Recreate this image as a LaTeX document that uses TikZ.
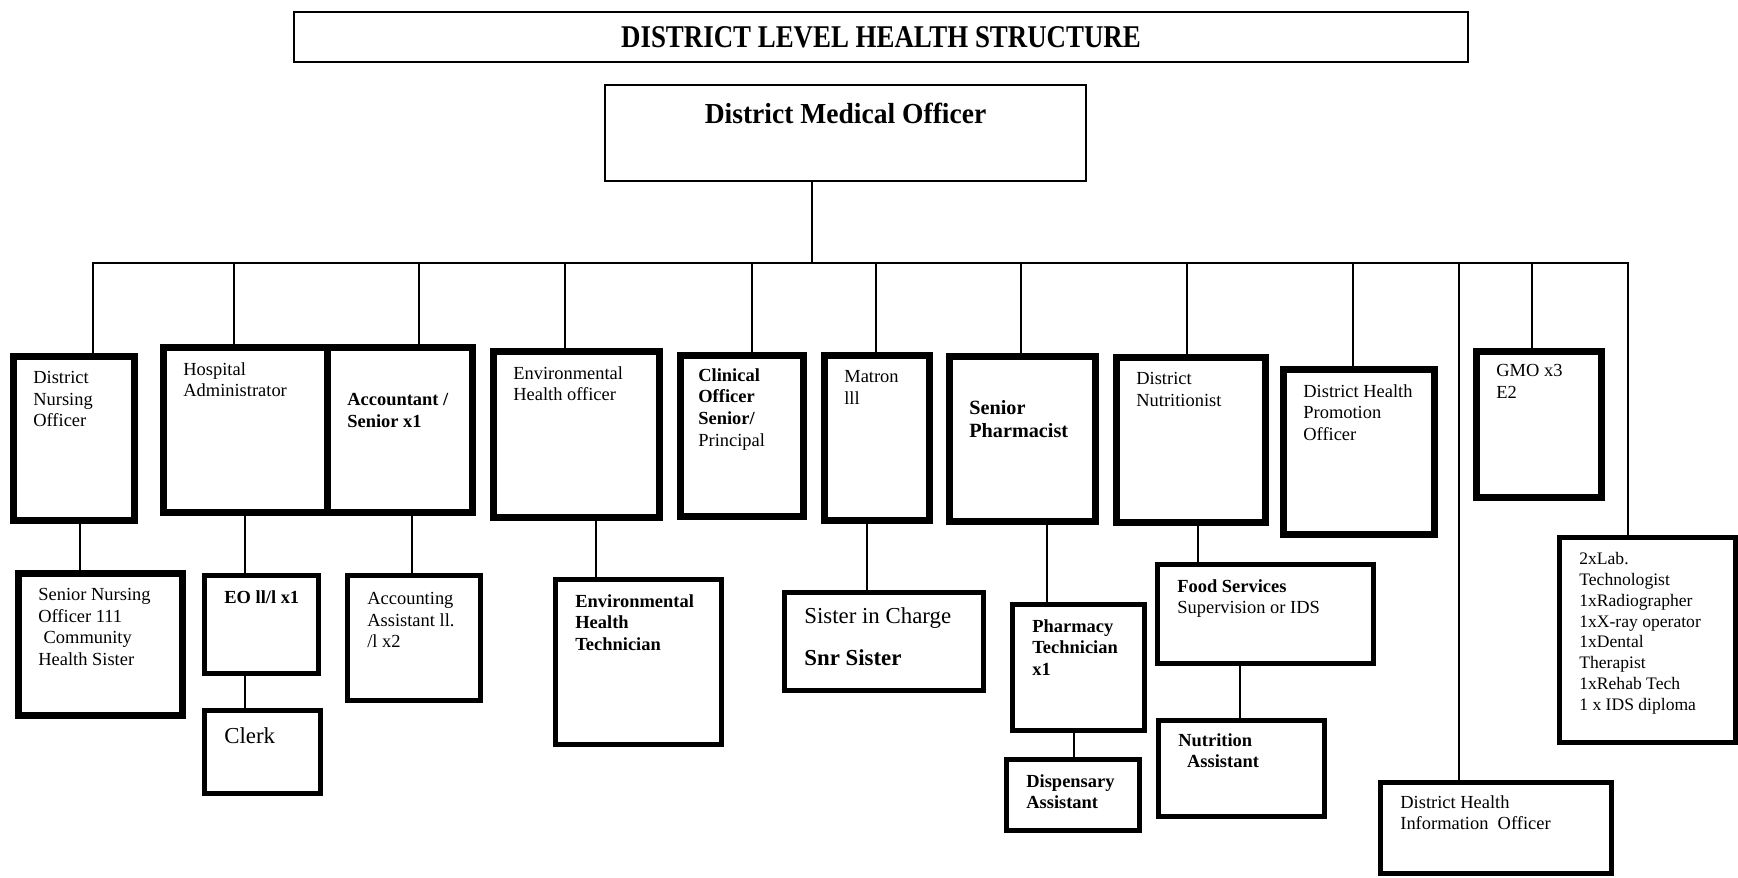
\documentclass[tikz,border=0pt]{standalone}
\usepackage{fontspec}
\setmainfont{Liberation Serif}
\usetikzlibrary{calc}

\begin{document}
\begin{tikzpicture}[
heavy/.style={draw, line width=.14cm, inner sep=0, outer sep=0},
medium/.style={draw, line width=.10cm, inner sep=0, outer sep=0},
plain/.style={draw, line width=.04cm, inner sep=0, outer sep=0},
link/.style={line width=.035cm},
post/.style={anchor=north west, inner sep=0, align=left, xshift=.4cm, yshift=-.3cm, font=\fontsize{10.5}{12.3}\selectfont},
postb/.style={post, font=\fontsize{10.5}{12.3}\selectfont\bfseries},
big/.style={post, font=\fontsize{13}{15}\selectfont}]
\useasboundingbox (0,0) rectangle (34.76,-17.54);
%%%%%%%%%% heading %%%%%%%%%%%
\node[plain, minimum width=23.48cm, minimum height=1cm] (title) at (17.62,-.74) {};
\node[font=\fontsize{18}{20}\selectfont\bfseries] at (title) {\scalebox{.85}[1]{DISTRICT LEVEL HEALTH STRUCTURE}};
\node[plain, minimum width=9.62cm, minimum height=1.92cm] (dmo) at (16.91,-2.66) {};
\node[anchor=north, inner sep=0, font=\fontsize{16.5}{18}\selectfont\bfseries] at ([yshift=-.36cm]dmo.north) {\scalebox{.95}[1]{District Medical Officer}};
\coordinate (BL) at (1.86,-5.26);
\coordinate (BR) at (32.56,-5.26);
%%%%%%%%%% first row %%%%%%%%%%%
\node[heavy, minimum width=2.42cm, minimum height=3.28cm] (dno) at (1.47,-8.76) {};
\node[post] at (dno.north west) {District\\Nursing\\Officer};
\node[heavy, minimum width=3.28cm, minimum height=3.30cm] (ha) at (4.90,-8.59) {};
\node[post] at (ha.north west) {Hospital\\Administrator};
\node[heavy, minimum width=2.90cm, minimum height=3.30cm] (acc) at (7.99,-8.59) {};
\node[postb] at ([yshift=-.62cm]acc.north west) {Accountant /\\Senior x1};
\node[heavy, minimum width=3.32cm, minimum height=3.32cm] (eho) at (11.52,-8.68) {};
\node[post] at (eho.north west) {Environmental\\Health officer};
\node[heavy, minimum width=2.46cm, minimum height=3.22cm] (co) at (14.83,-8.71) {};
\node[post] at ([xshift=-.04cm, yshift=.04cm]co.north west) {\textbf{Clinical}\\\textbf{Officer}\\\textbf{Senior/}\\Principal};
\node[heavy, minimum width=2.10cm, minimum height=3.30cm] (matron) at (17.53,-8.75) {};
\node[post] at (matron.north west) {Matron\\lll};
\node[heavy, minimum width=2.92cm, minimum height=3.30cm] (pharm) at (20.44,-8.77) {};
\node[post, font=\fontsize{11.5}{13.2}\selectfont\bfseries] at ([yshift=-.58cm]pharm.north west) {Senior\\Pharmacist};
\node[heavy, minimum width=2.98cm, minimum height=3.30cm] (nutri) at (23.81,-8.79) {};
\node[post] at (nutri.north west) {District\\Nutritionist};
\node[heavy, minimum width=3.02cm, minimum height=3.30cm] (promo) at (27.17,-9.03) {};
\node[post] at (promo.north west) {District Health\\Promotion\\Officer};
\node[heavy, minimum width=2.50cm, minimum height=2.92cm] (gmo) at (30.77,-8.48) {};
\node[post] at ([yshift=.04cm]gmo.north west) {GMO x3\\E2};
\node[medium, minimum width=3.52cm, minimum height=4.10cm] (lab) at (32.94,-12.79) {};
\node[post, font=\fontsize{10}{11.85}\selectfont] at (lab.north west) {2xLab.\\Technologist\\1xRadiographer\\1xX-ray operator\\1xDental\\Therapist\\1xRehab Tech\\1 x IDS diploma};
\node[medium, minimum width=4.62cm, minimum height=1.82cm] (info) at (29.91,-16.55) {};
\node[post] at ([yshift=.04cm]info.north west) {District Health\\Information\ \ Officer};
%%%%%%%%%% second row %%%%%%%%%%%
\node[heavy, minimum width=3.28cm, minimum height=2.84cm] (sno) at (2.00,-12.88) {};
\node[post] at (sno.north west) {Senior Nursing\\Officer 111\\\hspace*{3pt}Community\\Health Sister};
\node[medium, minimum width=2.28cm, minimum height=1.96cm] (eo) at (5.22,-12.48) {};
\node[postb] at (eo.north west) {EO ll/l x1};
\node[medium, minimum width=2.32cm, minimum height=1.66cm] (clerk) at (5.24,-15.03) {};
\node[big] at ([yshift=-.04cm]clerk.north west) {Clerk};
\node[medium, minimum width=2.66cm, minimum height=2.50cm] (accas) at (8.27,-12.75) {};
\node[post] at ([yshift=-.04cm]accas.north west) {Accounting\\Assistant ll.\\/l x2};
\node[medium, minimum width=3.32cm, minimum height=3.30cm] (eht) at (12.76,-13.23) {};
\node[postb] at (eht.north west) {Environmental\\Health\\Technician};
\node[medium, minimum width=3.98cm, minimum height=1.96cm] (sister) at (17.67,-12.82) {};
\node[big] at (sister.north west) {Sister in Charge\\[9pt]\textbf{Snr Sister}};
\node[medium, minimum width=2.64cm, minimum height=2.52cm] (tech) at (21.56,-13.34) {};
\node[postb] at (tech.north west) {Pharmacy\\Technician\\x1};
\node[medium, minimum width=2.66cm, minimum height=1.42cm] (disp) at (21.45,-15.89) {};
\node[postb] at (disp.north west) {Dispensary\\Assistant};
\node[medium, minimum width=4.32cm, minimum height=1.98cm] (food) at (25.30,-12.27) {};
\node[post] at (food.north west) {\textbf{Food Services}\\Supervision or IDS};
\node[medium, minimum width=3.32cm, minimum height=1.92cm] (nutas) at (24.82,-15.36) {};
\node[postb] at ([yshift=.04cm]nutas.north west) {Nutrition\\\hspace*{5pt}Assistant};
%%%%%%%%%% lines %%%%%%%%%%%
\draw[link] (dmo.south -| 16.24,0) -- (16.24,-5.26);
\draw[link] (dno.north -| BL) -- (BL) -- (BR) -- (lab.north -| BR);
\draw[link] (4.68,-5.26) -- (ha.north -| 4.68,0);
\draw[link] (8.38,-5.26) -- (acc.north -| 8.38,0);
\draw[link] (11.30,-5.26) -- (eho.north -| 11.30,0);
\draw[link] (15.04,-5.26) -- (co.north -| 15.04,0);
\draw[link] (17.52,-5.26) -- (matron.north -| 17.52,0);
\draw[link] (20.42,-5.26) -- (pharm.north -| 20.42,0);
\draw[link] (23.74,-5.26) -- (nutri.north -| 23.74,0);
\draw[link] (27.06,-5.26) -- (promo.north -| 27.06,0);
\draw[link] (29.18,-5.26) -- (info.north -| 29.18,0);
\draw[link] (30.64,-5.26) -- (gmo.north -| 30.64,0);
\draw[link] (dno.south -| 1.60,0) -- (sno.north -| 1.60,0);
\draw[link] (ha.south -| 4.90,0) -- (eo.north -| 4.90,0);
\draw[link] (eo.south -| 4.90,0) -- (clerk.north -| 4.90,0);
\draw[link] (acc.south -| 8.24,0) -- (accas.north -| 8.24,0);
\draw[link] (eho.south -| 11.92,0) -- (eht.north -| 11.92,0);
\draw[link] (matron.south -| 17.34,0) -- (sister.north -| 17.34,0);
\draw[link] (pharm.south -| 20.94,0) -- (tech.north -| 20.94,0);
\draw[link] (tech.south -| 21.48,0) -- (disp.north -| 21.48,0);
\draw[link] (nutri.south -| 23.96,0) -- (food.north -| 23.96,0);
\draw[link] (food.south -| 24.80,0) -- (nutas.north -| 24.80,0);
\end{tikzpicture}
\end{document}
